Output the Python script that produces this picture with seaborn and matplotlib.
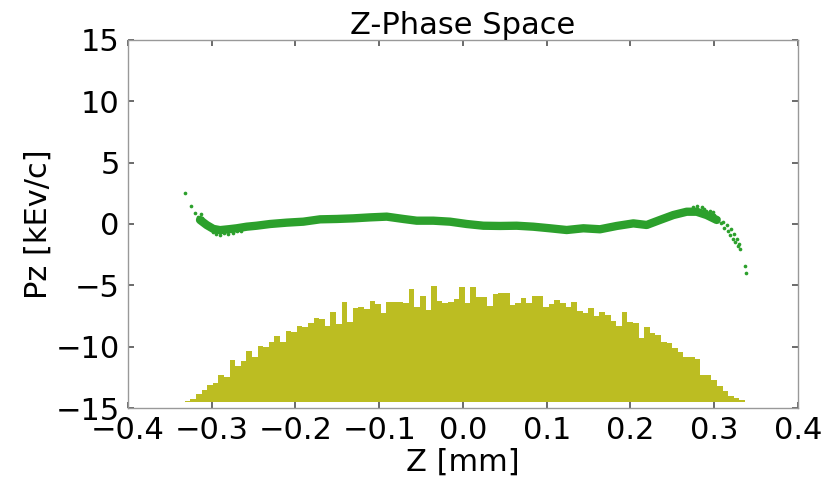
import numpy as np
import matplotlib
matplotlib.use("Agg")
import matplotlib.pyplot as plt
import seaborn as sns

# ---- data ----
# dense band of the phase-space scatter (centre line)
band_z = [-0.3140, -0.3061, -0.2981, -0.2901, -0.2802, -0.2702, -0.2583, -0.2464,
          -0.2304, -0.2105, -0.1906, -0.1707, -0.1508, -0.1310, -0.1110, -0.0911,
          -0.0712, -0.0553, -0.0354, -0.0155, 0.0044, 0.0243, 0.0442, 0.0641,
          0.0840, 0.1039, 0.1238, 0.1437, 0.1636, 0.1835, 0.2034, 0.2193,
          0.2352, 0.2511, 0.2671, 0.2790, 0.2909, 0.3029]
band_pz = [0.33, -0.08, -0.40, -0.50, -0.43, -0.35, -0.22, -0.14,
           0.00, 0.11, 0.19, 0.38, 0.41, 0.46, 0.54, 0.60,
           0.41, 0.27, 0.27, 0.19, 0.00, -0.14, -0.16, -0.14,
           -0.22, -0.35, -0.49, -0.35, -0.43, -0.16, 0.05, -0.08,
           0.33, 0.73, 1.00, 1.00, 0.73, 0.33]

# loose / outlying particles
loose_z = [-0.3323, -0.3244, -0.3200, -0.3132, -0.3170, -0.3120, -0.3100, -0.3050,
           -0.3000, -0.2980, -0.2950, -0.2900, -0.2850, -0.2800, -0.2750, -0.2700,
           -0.2650,
           0.2750, 0.2800, 0.2850, 0.2880, 0.2900, 0.2920, 0.2950, 0.2980, 0.2970,
           0.3000, 0.3020, 0.3050, 0.3080, 0.3100, 0.3120, 0.3150, 0.3170, 0.3190,
           0.3200, 0.3220, 0.3240, 0.3250, 0.3270, 0.3280, 0.3300, 0.3310, 0.3367,
           0.3380]
loose_pz = [2.50, 1.47, 0.87, 0.82, 0.60, 0.45, 0.20, -0.05,
            -0.30, -0.65, -0.80, -0.90, -0.75, -0.85, -0.70, -0.60,
            -0.55,
            1.40, 1.45, 1.35, 1.20, 1.05, 0.80, 1.10, 0.95, 0.50,
            0.70, 0.30, 0.45, 0.05, 0.20, -0.30, -0.10, -0.60, -0.90,
            -0.40, -1.20, -0.80, -1.50, -1.20, -1.80, -1.60, -2.05, -3.42,
            -3.97]

# histogram of Z (bar tops in Pz units, 100 bins)
hist_lo, hist_hi = -0.3323, 0.3367
hist_base = -14.5
hist_top = [-14.46, -14.29, -13.86, -13.53, -13.13, -12.93, -12.31, -12.45, -11.09, -11.58,
            -11.14, -10.33, -10.82, -9.95, -10.05, -9.59, -9.10, -9.65, -8.72, -8.83,
            -8.32, -8.42, -8.10, -7.64, -7.72, -8.32, -7.15, -8.15, -6.33, -8.02,
            -6.82, -6.77, -6.90, -6.28, -6.52, -7.28, -6.33, -6.39, -6.39, -6.47,
            -5.30, -6.79, -5.87, -7.01, -5.03, -6.28, -6.41, -6.39, -6.14, -5.16,
            -6.47, -5.11, -5.98, -5.98, -6.68, -5.71, -5.60, -5.60, -6.63, -6.47,
            -6.06, -6.47, -5.87, -5.87, -6.79, -6.55, -6.20, -6.41, -6.74, -6.33,
            -7.07, -7.28, -6.88, -7.47, -7.15, -7.42, -7.88, -8.29, -7.15, -7.96,
            -8.04, -9.32, -8.42, -8.86, -9.05, -9.59, -9.67, -10.14, -10.41, -10.87,
            -10.87, -11.03, -12.31, -12.31, -12.72, -13.21, -13.59, -14.02, -14.16, -14.35]

x_ticks = [-0.4, -0.3, -0.2, -0.1, 0.0, 0.1, 0.2, 0.3, 0.4]
y_ticks = [-15, -10, -5, 0, 5, 10, 15]

GREEN = "#2ca02c"
OLIVE = "#bcbd22"

sns.set_theme(style="white")
plt.rcParams["font.family"] = ["DejaVu Sans"]
plt.rcParams.update({
    "xtick.direction": "in", "ytick.direction": "in",
    "xtick.top": True, "ytick.right": True,
    "xtick.bottom": True, "ytick.left": True,
    "xtick.major.size": 4, "ytick.major.size": 4,
    "xtick.color": "0.35", "ytick.color": "0.35",
    "xtick.labelcolor": "black", "ytick.labelcolor": "black",
    "text.color": "black", "axes.labelcolor": "black",
})

fig = plt.figure(figsize=(8.28, 4.8), dpi=100)
ax = fig.add_axes([128 / 828, 1 - 408 / 480, 670 / 828, 368 / 480])

edges = np.linspace(hist_lo, hist_hi, len(hist_top) + 1)
tops = np.append(hist_top, hist_top[-1])
ax.fill_between(edges, hist_base, tops, step="post", color=OLIVE,
                linewidth=0, antialiased=True)

sns.lineplot(x=band_z, y=band_pz, color=GREEN, linewidth=6, ax=ax,
             solid_capstyle="round", solid_joinstyle="round")
sns.scatterplot(x=loose_z, y=loose_pz, color=GREEN, s=7, linewidth=0, ax=ax)

ax.set_xlim(-0.4, 0.4)
ax.set_ylim(-15, 15)
ax.set_xticks(x_ticks)
ax.set_yticks(y_ticks)
ax.tick_params(labelsize=22, pad=6)
for s in ax.spines.values():
    s.set_color("0.6")
    s.set_linewidth(1.0)

ax.set_title("Z-Phase Space", fontsize=22, pad=4, color="black")
ax.set_xlabel("Z [mm]", fontsize=22, labelpad=2)
ax.set_ylabel("Pz [kEv/c]", fontsize=22, labelpad=2)

fig.savefig("out.png", dpi=100)
